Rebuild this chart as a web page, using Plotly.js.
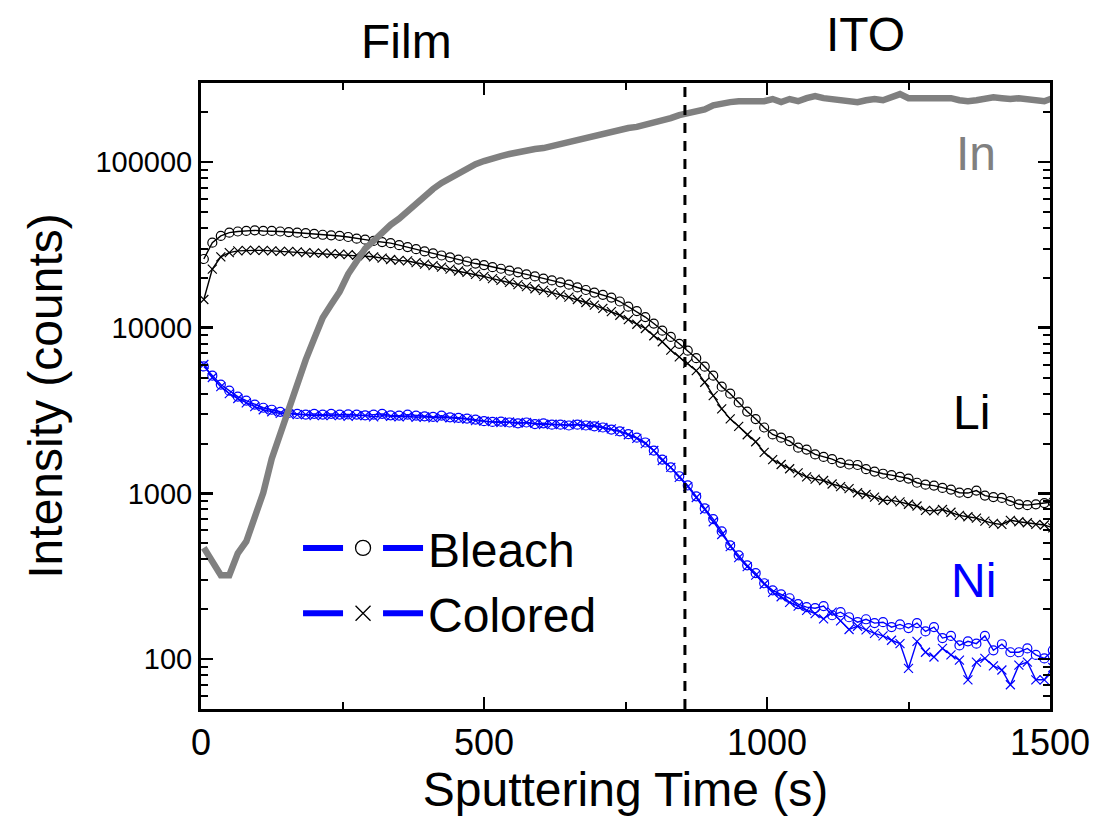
<!DOCTYPE html>
<html>
<head>
<meta charset="utf-8">
<script src="https://cdn.plot.ly/plotly-3.0.1.min.js"></script>
<style>html,body{margin:0;padding:0;background:#fff;}#chart{width:1094px;height:816px;}</style>
</head>
<body>
<div id="chart"></div>
<script>
// ---- data ----
const time = [5,20,35,50,65,80,95,110,125,140,155,170,185,200,215,230,245,260,275,290,305,320,335,350,365,380,395,410,425,440,455,470,485,500,515,530,545,560,575,590,605,620,635,650,665,680,695,710,725,740,755,770,785,800,815,830,845,860,875,890,905,920,935,950,965,980,995,1010,1025,1040,1055,1070,1085,1100,1115,1130,1145,1160,1175,1190,1205,1220,1235,1250,1265,1280,1295,1310,1325,1340,1355,1370,1385,1400,1415,1430,1445,1460,1475,1490,1505];

const inIntensity = [470,380,321,321,435,513,707,1010,1620,2320,3300,4700,6400,8600,11500,13800,16500,21100,25700,30000,33400,37800,41800,45500,50700,56600,62400,68800,74800,80000,85800,91900,97200,101400,105700,108700,111800,115000,116500,119800,121500,125000,130000,134000,136000,141500,145500,147500,152000,156000,160500,163000,167500,172000,179000,184000,192000,197000,200000,208000,220000,226000,230000,233000,233000,235000,233000,240000,230000,240000,233000,243000,250000,243000,240000,236000,233000,230000,236000,240000,236000,246000,257000,243000,243000,243000,246000,246000,243000,236000,233000,236000,243000,246000,243000,240000,243000,240000,240000,233000,243000];

const liBleach = [26000,32600,35800,37500,38100,38400,38700,38400,38400,38100,37800,37500,37200,36900,36400,36100,35800,35300,34500,34000,33400,32900,32400,31500,30700,29800,28900,28100,27300,26600,25800,25100,24400,23900,23200,22700,22100,21600,21000,20400,19800,19300,18800,18200,17500,16900,16300,15800,15200,14400,13400,12600,11600,10600,9600,8800,8000,7270,6550,5820,5140,4410,4000,3540,3120,2810,2500,2270,2170,2070,1890,1840,1720,1660,1610,1530,1495,1485,1400,1355,1315,1290,1260,1230,1160,1130,1115,1080,1055,1010,1005,1040,970,950,940,900,860,850,860,875,890];

const liColored = [14800,22600,26800,28400,29100,29300,29300,29300,29100,28900,28900,28700,28400,28200,28200,28000,27800,27600,27400,27200,26800,26300,25800,25500,25300,24700,24200,23700,23200,22600,22000,21600,21000,20400,19800,19300,18800,18200,17700,17200,16800,16300,15800,15300,14800,14200,13700,13100,12500,11900,11200,10500,9900,8950,8230,7320,6670,6100,5510,4690,3890,3240,2820,2540,2260,2050,1770,1600,1495,1410,1330,1260,1220,1197,1140,1100,1070,1010,985,950,910,908,890,860,840,790,785,800,770,737,723,710,680,660,650,688,675,665,650,645,620];

const niBleach = [5840,5140,4540,4170,3840,3630,3440,3290,3200,3110,3060,3020,2990,3020,2990,3020,2990,3000,2990,2960,2990,3020,2960,2950,2990,2950,2920,2900,2950,2880,2860,2830,2790,2730,2700,2710,2680,2650,2680,2620,2650,2600,2600,2570,2600,2570,2540,2500,2430,2370,2280,2170,2030,1815,1600,1435,1270,1117,960,812,700,590,486,423,368,330,287,260,246,233,215,206,203,209,184,192,179,167,174,165,167,156,162,154,165,147,156,134,138,121,128,124,138,113,123,110,110,116,106,101,113];

const niColored = [6000,5010,4410,4000,3740,3520,3340,3200,3110,3040,3020,2990,2990,2950,2960,2950,2960,2920,2950,2950,2900,2950,2920,2900,2920,2880,2900,2860,2880,2860,2830,2810,2750,2730,2710,2680,2700,2660,2680,2650,2600,2620,2600,2590,2620,2570,2570,2500,2450,2370,2260,2150,2000,1815,1580,1435,1250,1100,945,800,675,565,478,410,362,321,283,253,238,220,209,197,188,175,192,170,151,158,150,143,138,130,124,88,128,110,103,116,106,98.6,75,96,101,91,86,70,92,96,75,75,89];

const interfaceTime = 855;          // Film / ITO boundary (dashed line)
const xTickVals = [0, 500, 1000, 1500];
const yTickVals = [100, 1000, 10000, 100000];
const yTickText = ['100', '1000', '10000', '100000'];
const legendNames = ['Bleach', 'Colored'];

// ---- styling ----
const BLUE = '#0000ff', GRAY = '#808080', BLACK = '#000000';
const FONT = 'Liberation Sans, Arial, sans-serif';

function series(y, color, symbol) {
  return {
    x: time, y: y, type: 'scatter', mode: 'lines+markers', showlegend: false,
    line: {color: color, width: 1.4},
    marker: {symbol: symbol, size: 9, color: color, line: {color: color, width: 1.2}},
    hoverinfo: 'skip'
  };
}

function legendEntry(name, symbol) {
  return {x: [null], y: [null], type: 'scatter', mode: 'lines+markers', name: name,
    line: {color: BLUE, width: 6, dash: '40px,40px'},
    marker: {symbol: symbol, size: 15, color: BLACK, line: {color: BLACK, width: 1.3}}};
}

const traces = [
  series(liBleach, BLACK, 'circle-open'),
  series(liColored, BLACK, 'x-thin-open'),
  series(niBleach, BLUE, 'circle-open'),
  series(niColored, BLUE, 'x-thin-open'),
  {x: time, y: inIntensity, type: 'scatter', mode: 'lines', showlegend: false,
   line: {color: GRAY, width: 6.5}, hoverinfo: 'skip'},
  legendEntry(legendNames[0], 'circle-open'),
  legendEntry(legendNames[1], 'x-thin-open')
];

function label(text, x, y, color) {
  return {text: text, xref: 'paper', yref: 'paper', x: x, y: y, showarrow: false,
          xanchor: 'center', yanchor: 'middle',
          font: {family: FONT, size: 48, color: color}};
}

const layout = {
  width: 1094, height: 816,
  margin: {l: 201, r: 44, t: 83, b: 107},
  paper_bgcolor: '#fff', plot_bgcolor: '#fff',
  showlegend: true,
  legend: {x: 0.1143, y: 0.3176, xanchor: 'left', yanchor: 'top',
           font: {family: FONT, size: 48, color: BLACK}, itemwidth: 120,
           bgcolor: 'rgba(0,0,0,0)', tracegroupgap: 0},
  xaxis: {
    range: [0, 1500], tickvals: xTickVals, ticks: 'inside', ticklen: 12, tickwidth: 2.5,
    tickcolor: BLACK, showline: true, linewidth: 3, linecolor: BLACK, mirror: 'allticks',
    showgrid: false, zeroline: false,
    minor: {dtick: 250, ticks: 'inside', ticklen: 7, tickwidth: 2, tickcolor: BLACK, showgrid: false},
    tickfont: {family: FONT, size: 36, color: BLACK},
    title: {text: 'Sputtering Time (s)', font: {family: FONT, size: 48, color: BLACK}, standoff: 8}
  },
  yaxis: {
    type: 'log', range: [Math.log10(50), Math.log10(300000)],
    tickvals: yTickVals, ticktext: yTickText, ticks: 'inside', ticklen: 12, tickwidth: 2.5,
    tickcolor: BLACK, showline: true, linewidth: 3, linecolor: BLACK, mirror: 'allticks',
    showgrid: false, zeroline: false,
    minor: {dtick: 'D1', ticks: 'inside', ticklen: 7, tickwidth: 2, tickcolor: BLACK, showgrid: false},
    tickfont: {family: FONT, size: 29, color: BLACK},
    title: {text: 'Intensity (counts)', font: {family: FONT, size: 48, color: BLACK}, standoff: 18}
  },
  shapes: [{type: 'line', xref: 'x', yref: 'paper', x0: interfaceTime, x1: interfaceTime, y0: 0, y1: 1,
            line: {color: BLACK, width: 3, dash: '10px,8px'}}],
  annotations: [
    label('Film', 0.242, 1.066, BLACK),
    label('ITO', 0.783, 1.078, BLACK),
    label('In', 0.913, 0.888, GRAY),
    label('Li', 0.907, 0.474, BLACK),
    label('Ni', 0.910, 0.206, BLUE)
  ]
};

Plotly.newPlot('chart', traces, layout, {staticPlot: true, displayModeBar: false});
</script>
</body>
</html>
